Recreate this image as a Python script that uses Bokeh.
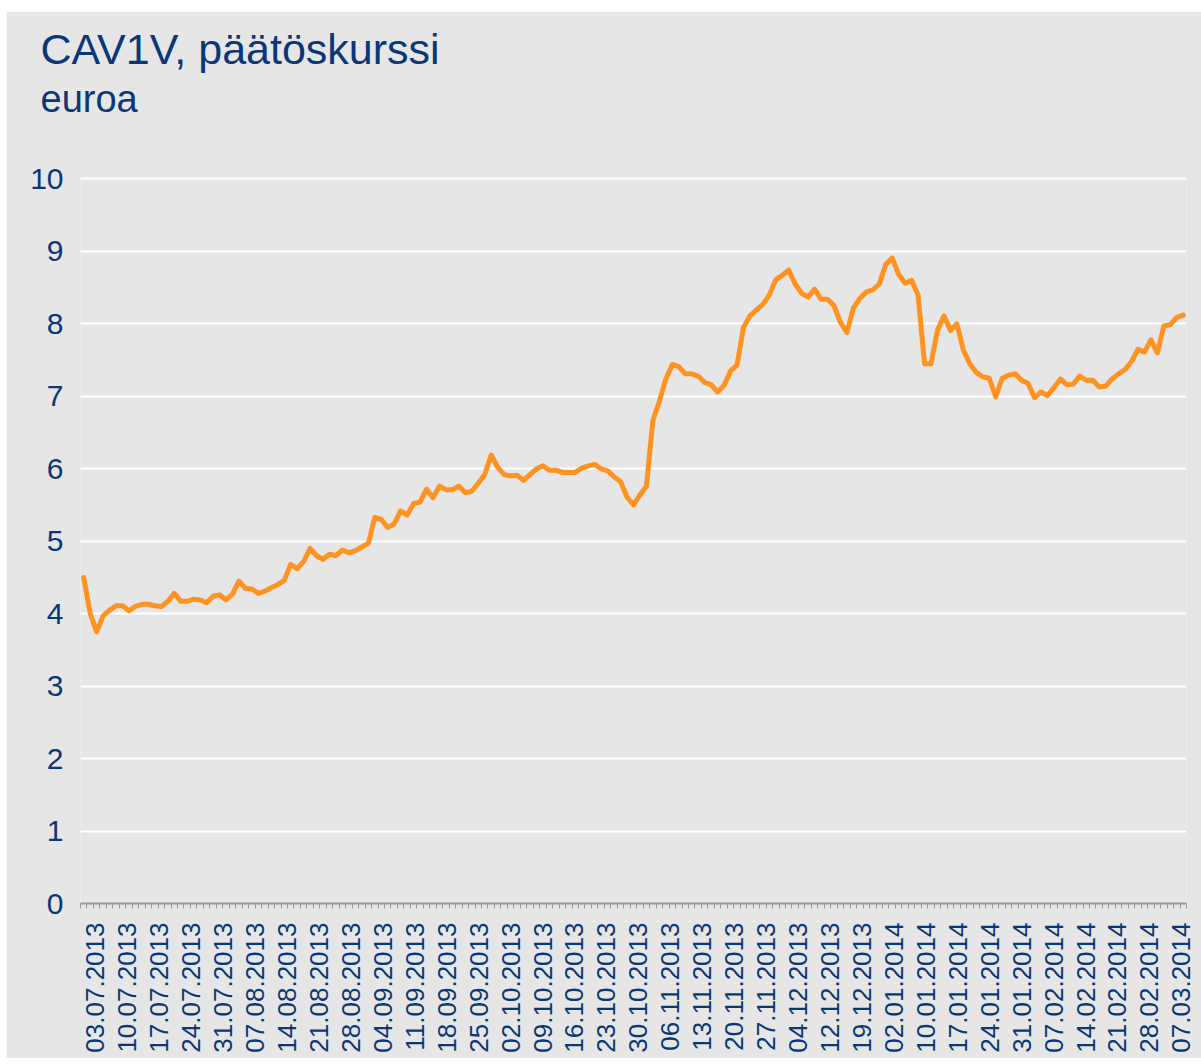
from math import pi
from bokeh.plotting import figure
from bokeh.models import ColumnDataSource, FixedTicker, Range1d, Title
from bokeh.embed import file_html
from bokeh.resources import INLINE

# ---- data -------------------------------------------------------------
title_text = "CAV1V, päätöskurssi"
subtitle_text = "euroa"

# closing price (EUR) per trading day, 03.07.2013 ... 07.03.2014 (171 days)
close = [
    4.50, 4.00, 3.75, 3.97, 4.05, 4.11, 4.11, 4.04, 4.10, 4.13,
    4.13, 4.11, 4.10, 4.17, 4.28, 4.17, 4.17, 4.20, 4.19, 4.15,
    4.24, 4.26, 4.19, 4.27, 4.45, 4.35, 4.34, 4.28, 4.31, 4.36,
    4.40, 4.46, 4.68, 4.62, 4.72, 4.90, 4.80, 4.75, 4.82, 4.80,
    4.88, 4.84, 4.87, 4.92, 4.97, 5.33, 5.30, 5.19, 5.24, 5.42,
    5.36, 5.52, 5.54, 5.72, 5.60, 5.76, 5.71, 5.71, 5.76, 5.67,
    5.69, 5.80, 5.92, 6.19, 6.02, 5.92, 5.90, 5.91, 5.84, 5.92,
    6.00, 6.04, 5.98, 5.98, 5.95, 5.95, 5.95, 6.01, 6.04, 6.06,
    6.00, 5.97, 5.89, 5.82, 5.61, 5.50, 5.64, 5.76, 6.67, 6.93,
    7.24, 7.44, 7.41, 7.31, 7.31, 7.28, 7.19, 7.16, 7.06, 7.15,
    7.35, 7.43, 7.95, 8.11, 8.19, 8.27, 8.40, 8.61, 8.67, 8.74,
    8.55, 8.42, 8.37, 8.48, 8.34, 8.34, 8.25, 8.02, 7.88, 8.22,
    8.35, 8.44, 8.47, 8.55, 8.82, 8.91, 8.68, 8.56, 8.60, 8.40,
    7.45, 7.45, 7.91, 8.11, 7.91, 8.00, 7.64, 7.45, 7.33, 7.27,
    7.25, 6.99, 7.25, 7.29, 7.31, 7.22, 7.18, 6.98, 7.06, 7.01,
    7.12, 7.24, 7.16, 7.17, 7.28, 7.22, 7.22, 7.13, 7.14, 7.24,
    7.31, 7.37, 7.48, 7.65, 7.61, 7.78, 7.60, 7.97, 7.99, 8.09,
    8.12,
]

# date labels (every 5th trading day), spread evenly along the axis
tick_labels = [
    "03.07.2013", "10.07.2013", "17.07.2013", "24.07.2013", "31.07.2013",
    "07.08.2013", "14.08.2013", "21.08.2013", "28.08.2013", "04.09.2013",
    "11.09.2013", "18.09.2013", "25.09.2013", "02.10.2013", "09.10.2013",
    "16.10.2013", "23.10.2013", "30.10.2013", "06.11.2013", "13.11.2013",
    "20.11.2013", "27.11.2013", "04.12.2013", "12.12.2013", "19.12.2013",
    "02.01.2014", "10.01.2014", "17.01.2014", "24.01.2014", "31.01.2014",
    "07.02.2014", "14.02.2014", "21.02.2014", "28.02.2014", "07.03.2014",
]
y_ticks = [0, 1, 2, 3, 4, 5, 6, 7, 8, 9, 10]

# ---- styling ----------------------------------------------------------
BG = "#e6e6e6"
NAVY = "#0a3778"
ORANGE = "#ff9322"
FONT = "Liberation Sans"

n = len(close)
day_index = list(range(n))
source = ColumnDataSource(dict(x=day_index, y=close))

p = figure(
    frame_width=1106, frame_height=726,
    x_range=Range1d(-0.5, n - 0.5), y_range=Range1d(0, 10.02),
    output_backend="svg", toolbar_location=None, title=None,
    background_fill_color=BG, border_fill_color=BG,
    min_border_left=74, min_border_right=15,
    min_border_top=166, min_border_bottom=155,
)
p.margin = (11, 0, 0, 6)
p.outline_line_color = None

# titles: the one added later sits further from the plot
sub = Title(text=subtitle_text, align="left", offset=-40, standoff=116,
            text_font=FONT, text_font_size="38px", text_font_style="normal",
            text_color=NAVY)
main = Title(text=title_text, align="left", offset=-40, standoff=-111,
             text_font=FONT, text_font_size="43px", text_font_style="normal",
             text_color=NAVY)
p.add_layout(sub, "above")
p.add_layout(main, "above")

p.line("x", "y", source=source, line_color=ORANGE, line_width=5,
       line_join="round", line_cap="round")

# x axis: small ticks on category boundaries; date labels spread evenly
first_pos, last_pos = 1.8, n - 1.3
step = (last_pos - first_pos) / (len(tick_labels) - 1)
label_pos = [first_pos + k * step for k in range(len(tick_labels))]
p.xaxis.ticker = FixedTicker(ticks=label_pos,
                             minor_ticks=[i - 0.5 for i in range(n + 1)])
p.xaxis.major_label_overrides = {pos: lab for pos, lab in zip(label_pos, tick_labels)}
p.xaxis.major_label_orientation = pi / 2
p.xaxis.major_tick_line_color = None
p.xaxis.major_tick_out = 5
p.xaxis.major_tick_in = 0
p.xaxis.minor_tick_line_color = "#9a9a9a"
p.xaxis.minor_tick_out = 5
p.xaxis.minor_tick_in = 0
p.xaxis.axis_line_color = "#9a9a9a"
p.xaxis.axis_line_width = 2
p.xaxis.major_label_standoff = 14
p.xaxis.major_label_text_font = FONT
p.xaxis.major_label_text_font_size = "26px"
p.xaxis.major_label_text_color = NAVY

# y axis
p.yaxis.ticker = FixedTicker(ticks=y_ticks)
p.yaxis.axis_line_color = None
p.yaxis.major_tick_line_color = None
p.yaxis.minor_tick_line_color = None
p.yaxis.major_tick_out = 0
p.yaxis.major_label_standoff = 17
p.yaxis.major_label_text_font = FONT
p.yaxis.major_label_text_font_size = "30px"
p.yaxis.major_label_text_color = NAVY

p.xgrid.grid_line_color = None
p.ygrid.grid_line_color = "white"
p.ygrid.grid_line_width = 2

open("out.html", "w").write(file_html(p, INLINE))
